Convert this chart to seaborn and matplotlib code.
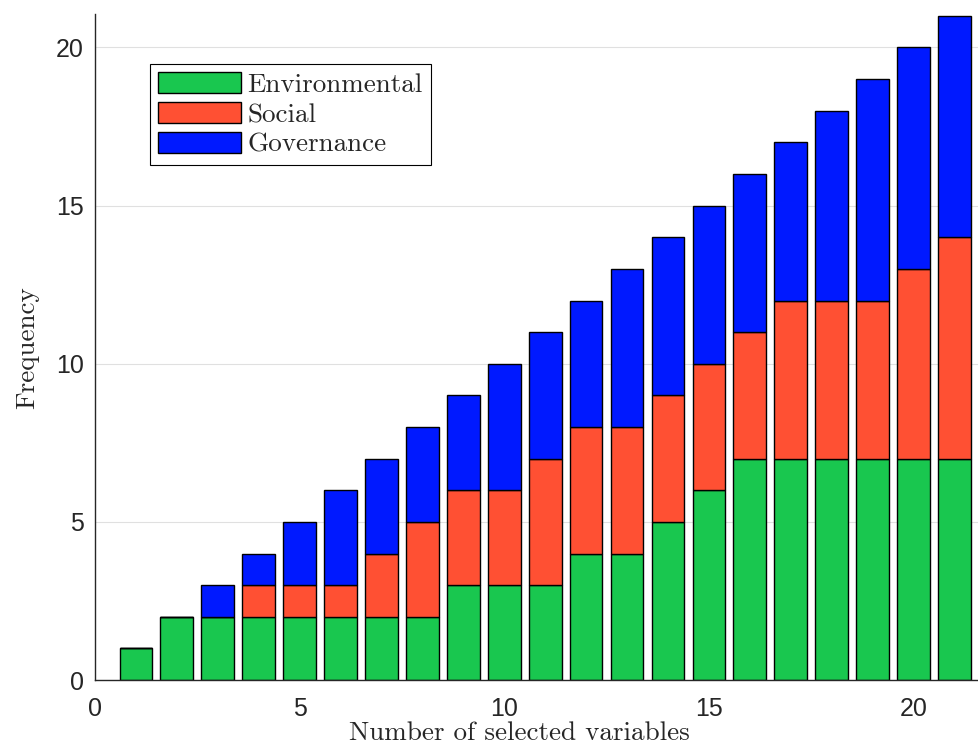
import numpy as np
import pandas as pd
import matplotlib
matplotlib.use('Agg')
import matplotlib.pyplot as plt
import seaborn as sns
from matplotlib.patches import Patch

n_vars = list(range(1, 22))
environmental = [1, 2, 2, 2, 2, 2, 2, 2, 3, 3, 3, 4, 4, 5, 6, 7, 7, 7, 7, 7, 7]
social = [0, 0, 0, 1, 1, 1, 2, 3, 3, 3, 4, 4, 4, 4, 4, 4, 5, 5, 5, 6, 7]
governance = [0, 0, 1, 1, 2, 3, 3, 3, 3, 4, 4, 4, 5, 5, 5, 5, 5, 6, 7, 7, 7]
categories = ['Environmental', 'Social', 'Governance']
colors = {'Environmental': '#19C74F', 'Social': '#FF5033', 'Governance': '#0019FF'}

df = pd.concat([
    pd.DataFrame({'n': n_vars, 'count': environmental, 'cat': 'Environmental'}),
    pd.DataFrame({'n': n_vars, 'count': social, 'cat': 'Social'}),
    pd.DataFrame({'n': n_vars, 'count': governance, 'cat': 'Governance'}),
])

sns.set_theme(style='whitegrid')
plt.rcParams['font.family'] = ['Liberation Sans', 'DejaVu Sans']

fig = plt.figure(figsize=(9.79, 7.49), dpi=100)
ax = fig.add_axes([0.097, 0.092, 0.903, 0.889])

# last hue level ends up at the bottom of the stack
sns.histplot(data=df, x='n', weights='count', hue='cat',
             hue_order=categories[::-1], palette=colors,
             multiple='stack', discrete=True, shrink=0.8,
             edgecolor='black', linewidth=1.0, alpha=1,
             legend=False, ax=ax)

ax.set_xlim(0, 21.6)
ax.set_ylim(0, 21.05)
ax.set_xticks([0, 5, 10, 15, 20])
ax.set_yticks([0, 5, 10, 15, 20])
ax.tick_params(axis='both', labelsize=18, direction='in', length=7, width=1,
               color='#262626', labelcolor='#262626')
ax.tick_params(axis='x', pad=12)
ax.tick_params(axis='y', pad=8)
ax.grid(axis='x', visible=False)
ax.grid(axis='y', color='#e0e0e0', linewidth=0.8)
ax.set_axisbelow(True)
for side in ['top', 'right']:
    ax.spines[side].set_visible(False)
for side in ['left', 'bottom']:
    ax.spines[side].set_color('#262626')
    ax.spines[side].set_linewidth(1.0)

ax.set_xlabel('Number of selected variables', fontfamily='cmr10', fontsize=19.5)
ax.set_ylabel('Frequency', fontfamily='cmr10', fontsize=19.5)
ax.xaxis.set_label_coords(0.48, -0.062)
ax.yaxis.set_label_coords(-0.063, 0.5)

handles = [Patch(facecolor=colors[c], edgecolor='black', label=c) for c in categories]
leg = ax.legend(handles=handles, loc='upper left', bbox_to_anchor=(0.062, 0.925),
                fancybox=False, edgecolor='black', framealpha=1,
                prop={'family': 'cmr10', 'size': 19.5},
                handlelength=3.05, handleheight=0.82, handletextpad=0.25,
                labelspacing=0.18, borderpad=0.3, borderaxespad=0)
leg.get_frame().set_linewidth(0.8)

fig.savefig('out.png', dpi=100)
